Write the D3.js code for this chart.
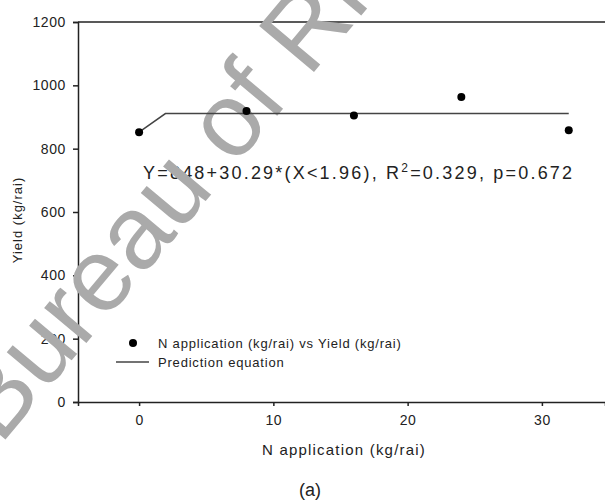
<!DOCTYPE html>
<html>
<head>
<meta charset="utf-8">
<script src="https://cdn.jsdelivr.net/npm/d3@7"></script>
<style>
  body { margin: 0; background: #fff; }
  svg { display: block; font-family: Arial, "Liberation Sans", sans-serif; }
  .axis path, .axis line { stroke: #222; stroke-width: 1.5; }
  .axis text { fill: #222; font-size: 14px; letter-spacing: 0.6px; }
</style>
</head>
<body>
<svg id="chart" width="605" height="503"></svg>
<script>
// data
var nRates = [0, 8, 16, 24, 32]
var yields = [852, 919, 905, 963, 858]
var fitX = [0, 1.96, 32]
var fitY = [852, 911, 911]
var xTicks = [0, 10, 20, 30]
var yTicks = [0, 200, 400, 600, 800, 1000, 1200]

var svg = d3.select('#chart')

var x = d3.scaleLinear().domain([-4.55, 34.7]).range([78, 605])
var y = d3.scaleLinear().domain([0, 1200]).range([402, 22])

// top frame line
svg.append('line')
  .attr('x1', x.range()[0]).attr('x2', x.range()[1])
  .attr('y1', y(1200)).attr('y2', y(1200))
  .style('stroke', '#222').style('stroke-width', 1.5)

svg.append('g')
  .attr('class', 'axis')
  .attr('transform', 'translate(0,' + y(0) + ')')
  .call(d3.axisBottom(x).tickValues(xTicks).tickFormat(d3.format('d'))
    .tickSizeOuter(0).tickSize(4).tickPadding(9))

svg.append('g')
  .attr('class', 'axis')
  .attr('transform', 'translate(' + x.range()[0] + ',0)')
  .call(d3.axisLeft(y).tickValues(yTicks).tickFormat(d3.format('d'))
    .tickSizeOuter(0).tickSize(5).tickPadding(7))

// equation
var eq = svg.append('text')
  .attr('x', 143).attr('y', 179)
  .style('font-size', '18px')
  .style('letter-spacing', '2.2px')
  .style('fill', '#222')
eq.append('tspan').text('Y=848+30.29*(X<1.96), R')
eq.append('tspan').attr('dy', -7).style('font-size', '12px').text('2')
eq.append('tspan').attr('dy', 7).text('=0.329, p=0.672')

// legend
svg.append('text')
  .attr('x', 158).attr('y', 348)
  .style('font-size', '13px').style('letter-spacing', '0.8px').style('fill', '#222')
  .text('N application (kg/rai) vs Yield (kg/rai)')
svg.append('text')
  .attr('x', 158).attr('y', 367)
  .style('font-size', '13px').style('letter-spacing', '0.8px').style('fill', '#222')
  .text('Prediction equation')

// axis titles
svg.append('text')
  .attr('x', 344).attr('y', 455)
  .attr('text-anchor', 'middle')
  .style('font-size', '15px').style('letter-spacing', '1.2px').style('fill', '#222')
  .text('N application (kg/rai)')
svg.append('text')
  .attr('transform', 'translate(22,220) rotate(-90)')
  .attr('text-anchor', 'middle')
  .style('font-size', '13px').style('letter-spacing', '1px').style('fill', '#222')
  .text('Yield (kg/rai)')

svg.append('text')
  .attr('x', 310).attr('y', 496)
  .attr('text-anchor', 'middle')
  .style('font-size', '18px').style('fill', '#222')
  .text('(a)')

// watermark sits over the labels
svg.append('text')
  .attr('transform', 'translate(0,446) rotate(-50)')
  .style('font-size', '104px')
  .style('fill', '#aaa')
  .text('Bureau of Rice')

// prediction line
var line = d3.line()
  .x(function(d) { return x(d[0]) })
  .y(function(d) { return y(d[1]) })
svg.append('path')
  .datum(d3.zip(fitX, fitY))
  .attr('d', line)
  .style('fill', 'none')
  .style('stroke', '#444')
  .style('stroke-width', 1.5)

svg.selectAll('circle.pt')
  .data(d3.zip(nRates, yields))
  .enter().append('circle')
  .attr('class', 'pt')
  .attr('cx', function(d) { return x(d[0]) })
  .attr('cy', function(d) { return y(d[1]) })
  .attr('r', 4)
  .style('fill', '#000')

svg.append('circle')
  .attr('cx', 133).attr('cy', 343).attr('r', 4)
  .style('fill', '#000')
svg.append('line')
  .attr('x1', 116).attr('x2', 149).attr('y1', 362).attr('y2', 362)
  .style('stroke', '#444').style('stroke-width', 1.5)
</script>
</body>
</html>
